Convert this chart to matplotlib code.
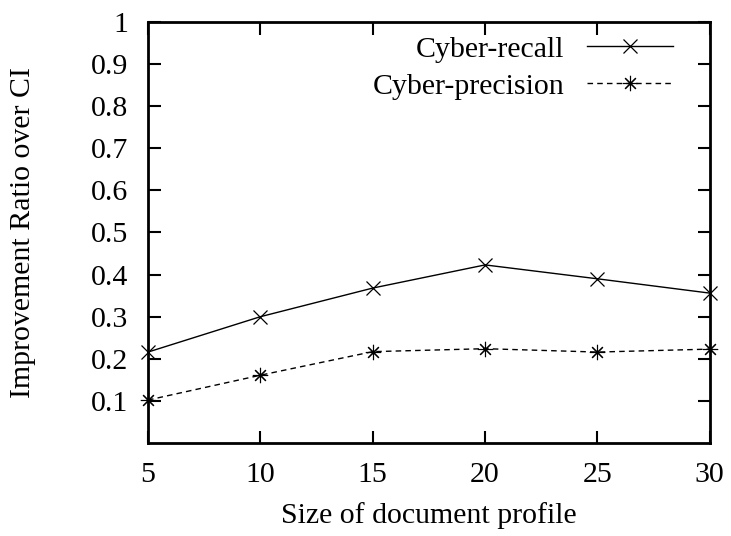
import numpy as np
import matplotlib
matplotlib.use('Agg')
import matplotlib.pyplot as plt

# profile sizes and improvement ratios
sizes     = [5, 10, 15, 20, 25, 30]
recall    = [0.216, 0.300, 0.368, 0.423, 0.390, 0.356]
precision = [0.102, 0.161, 0.217, 0.224, 0.216, 0.223]
yticks    = [0.1, 0.2, 0.3, 0.4, 0.5, 0.6, 0.7, 0.8, 0.9, 1.0]
ylabels   = ['0.1', '0.2', '0.3', '0.4', '0.5', '0.6', '0.7', '0.8', '0.9', '1']

plt.rcParams['font.family'] = ['Liberation Serif', 'DejaVu Serif']
plt.rcParams['font.size'] = 21.5

fig = plt.figure(figsize=(7.31, 5.36), dpi=100)
ax = fig.add_axes([0.2025, 0.1735, 0.7685, 0.7855])

ax.plot(sizes, recall, color='black', lw=1.0, marker='x', ms=9.5, mew=0.9,
        label='Cyber-recall', clip_on=False)
ax.plot(sizes, precision, color='black', lw=1.0, dashes=(4, 3), marker=(8, 2, 0),
        ms=11, mew=0.8, label='Cyber-precision', clip_on=False)

ax.set_xlim(5, 30)
ax.set_ylim(0, 1)
ax.set_xticks(sizes)
ax.set_yticks(yticks)
ax.set_yticklabels(ylabels)
ax.tick_params(direction='in', length=9, width=1.5, top=True, right=True, pad=14)
for s in ax.spines.values():
    s.set_linewidth(2)

ax.set_xlabel('Size of document profile', labelpad=10)
ax.set_ylabel('Improvement Ratio over CI', labelpad=40)

leg = ax.legend(loc='upper right', frameon=False, markerfirst=False,
                handlelength=2.85, borderaxespad=0, labelspacing=0.33,
                handletextpad=0.77, bbox_to_anchor=(0.955, 0.995), alignment='right')
for t in leg.get_texts():
    t.set_horizontalalignment('right')

fig.savefig('out.png', dpi=100)
